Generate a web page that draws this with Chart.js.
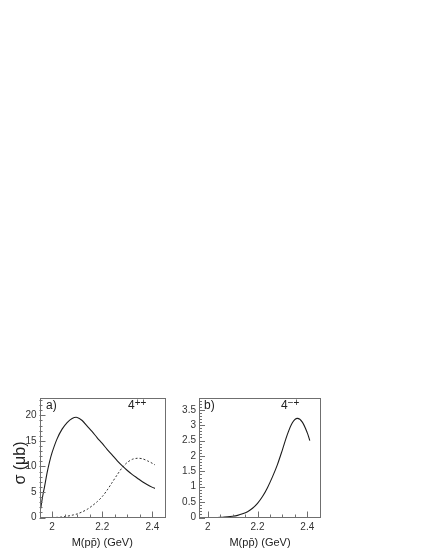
<!DOCTYPE html>
<html>
<head>
<meta charset="utf-8">
<script src="https://cdn.jsdelivr.net/npm/chart.js@4.4.1/dist/chart.umd.min.js"></script>
<style>
  html, body { margin: 0; padding: 0; background: #fff; }
  #wrap { position: relative; width: 432px; height: 559px; overflow: hidden; background: #fff; }
  .pane { position: absolute; }
  .note { position: absolute; font-family: "Liberation Sans", Arial, sans-serif; font-size: 12px; line-height: 14px; color: #222; white-space: nowrap; }
  .note sup { font-size: 10px; vertical-align: 3px; line-height: 0; }
  #ytitle { position: absolute; left: 20px; top: 463px; transform: translate(-50%, -50%) rotate(-90deg);
            font-family: "Liberation Sans", Arial, sans-serif; font-size: 16px; line-height: 18px; color: #222; white-space: nowrap; }
</style>
</head>
<body>
<div id="wrap">
  <div class="pane" style="left:0;top:380px;width:180px;height:179px"><canvas id="chartA" width="180" height="179"></canvas></div>
  <div class="pane" style="left:180px;top:380px;width:152px;height:179px"><canvas id="chartB" width="152" height="179"></canvas></div>
  <div id="ytitle"></div>
  <div class="note" style="left:46px;top:398px">a)</div>
  <div class="note" style="left:128px;top:398px">4<sup>++</sup></div>
  <div class="note" style="left:204px;top:398px">b)</div>
  <div class="note" style="left:281px;top:398px">4<sup>−+</sup></div>
</div>
<script>
// ---- data ----
const massSolidA = [1.955, 1.96, 1.965, 1.97, 1.98, 1.99, 2.0, 2.02, 2.04, 2.06, 2.08, 2.1, 2.12, 2.14, 2.16, 2.18, 2.2, 2.22, 2.24, 2.26, 2.28, 2.3, 2.32, 2.34, 2.36, 2.38, 2.4, 2.41];
const sigmaSolidA = [1.8, 3.4, 4.8, 6.0, 8.7, 10.9, 12.7, 15.4, 17.3, 18.6, 19.4, 19.6, 19.0, 17.9, 16.8, 15.6, 14.5, 13.3, 12.2, 11.1, 10.1, 9.2, 8.4, 7.7, 7.0, 6.4, 5.9, 5.7];
const massDashedA = [2.0, 2.02, 2.04, 2.06, 2.08, 2.1, 2.12, 2.14, 2.16, 2.18, 2.2, 2.22, 2.24, 2.26, 2.28, 2.3, 2.32, 2.34, 2.36, 2.38, 2.4, 2.41];
const sigmaDashedA = [0.0, 0.03, 0.1, 0.25, 0.45, 0.7, 1.1, 1.6, 2.3, 3.1, 4.1, 5.4, 6.9, 8.4, 9.8, 10.8, 11.4, 11.6, 11.5, 11.1, 10.6, 10.3];
const massB = [2.04, 2.06, 2.08, 2.1, 2.12, 2.14, 2.16, 2.18, 2.2, 2.22, 2.24, 2.26, 2.28, 2.3, 2.32, 2.34, 2.36, 2.38, 2.4, 2.41];
const sigmaB = [0.0, 0.01, 0.02, 0.04, 0.07, 0.12, 0.19, 0.3, 0.46, 0.68, 0.97, 1.32, 1.72, 2.2, 2.7, 3.08, 3.22, 3.1, 2.75, 2.5];

const xTickLabels = [2.0, 2.2, 2.4];
const yTickLabelsA = [0, 5, 10, 15, 20];
const yTickLabelsB = [0, 0.5, 1, 1.5, 2, 2.5, 3, 3.5];

const xTitle = 'M(pp\u0304) (GeV)';
const yTitle = '\u03c3 (\u03bcb)';
document.getElementById('ytitle').textContent = yTitle;

// ---- helpers ----
const FONT = '"Liberation Sans", Arial, Helvetica, sans-serif';
const pts = (xs, ys) => xs.map((x, i) => ({ x: x, y: ys[i] }));

function minorValues(min, max, step) {
  const out = [];
  const start = Math.ceil(min / step - 1e-9);
  const end = Math.floor(max / step + 1e-9);
  for (let k = start; k <= end; k++) out.push(+(k * step).toFixed(6));
  return out;
}

const frameTicks = {
  id: 'frameTicks',
  afterDraw(chart, args, o) {
    const { ctx, chartArea: a, scales } = chart;
    const xs = scales.x, ys = scales.y;
    ctx.save();
    ctx.strokeStyle = '#6f6f6f';
    ctx.lineWidth = 1;
    ctx.beginPath();
    minorValues(xs.min, xs.max, o.xMinor).forEach(v => {
      const px = Math.round(xs.getPixelForValue(v)) + 0.5;
      const major = Math.abs(v / o.xMajor - Math.round(v / o.xMajor)) < 1e-6;
      const len = major ? 6 : 3;
      ctx.moveTo(px, a.bottom);
      ctx.lineTo(px, a.bottom - len);
    });
    minorValues(ys.min, ys.max, o.yMinor).forEach(v => {
      const py = Math.round(ys.getPixelForValue(v)) + 0.5;
      const major = Math.abs(v / o.yMajor - Math.round(v / o.yMajor)) < 1e-6;
      const len = major ? 6 : 3;
      ctx.moveTo(a.left, py);
      ctx.lineTo(a.left + len, py);
    });
    ctx.stroke();
    ctx.strokeRect(Math.round(a.left) + 0.5, Math.round(a.top) + 0.5,
                   Math.round(a.right - a.left) - 1, Math.round(a.bottom - a.top) - 1);
    ctx.restore();
  }
};

function makeChart(id, datasets, cfg) {
  return new Chart(document.getElementById(id), {
    type: 'line',
    data: { datasets: datasets },
    plugins: [frameTicks],
    options: {
      responsive: false,
      animation: false,
      events: [],
      layout: { padding: { top: 17.5, right: cfg.padRight, left: 0, bottom: 0 } },
      plugins: {
        legend: { display: false },
        tooltip: { enabled: false },
        frameTicks: cfg.ticks
      },
      elements: { point: { radius: 0 } },
      scales: {
        x: {
          type: 'linear',
          min: cfg.xMin, max: cfg.xMax,
          grid: { display: false, drawTicks: false },
          border: { display: false },
          afterBuildTicks: s => { s.ticks = xTickLabels.map(v => ({ value: v })); },
          afterFit: s => { s.height = 41.5; },
          ticks: {
            padding: 4,
            color: '#333',
            font: { family: FONT, size: 10 },
            maxRotation: 0,
            autoSkip: false,
            callback: v => String(+v.toFixed(2))
          },
          title: {
            display: true,
            text: xTitle,
            color: '#222',
            font: { family: FONT, size: 11 },
            padding: { top: 0, bottom: 9.4 }
          }
        },
        y: {
          type: 'linear',
          min: 0, max: cfg.yMax,
          grid: { display: false, drawTicks: false },
          border: { display: false },
          afterBuildTicks: s => { s.ticks = cfg.yTicks.map(v => ({ value: v })); },
          afterFit: s => { s.width = cfg.yWidth; },
          ticks: {
            padding: 3,
            color: '#333',
            font: { family: FONT, size: 10 },
            autoSkip: false,
            callback: v => String(+v.toFixed(2))
          },
          title: { display: false }
        }
      }
    }
  });
}

makeChart('chartA', [
  { data: pts(massSolidA, sigmaSolidA), borderColor: '#1c1c1c', borderWidth: 1.1, tension: 0.3, fill: false },
  { data: pts(massDashedA, sigmaDashedA), borderColor: '#333', borderWidth: 1, borderDash: [2, 2], tension: 0.3, fill: false }
], {
  padRight: 15, xMin: 1.95, xMax: 2.45, yMax: 23.5, yTicks: yTickLabelsA, yWidth: 39.5,
  ticks: { xMinor: 0.05, xMajor: 0.2, yMinor: 1, yMajor: 5 }
});

makeChart('chartB', [
  { data: pts(massB, sigmaB), borderColor: '#1c1c1c', borderWidth: 1.1, tension: 0.3, fill: false }
], {
  padRight: 11, xMin: 1.965, xMax: 2.455, yMax: 3.9, yTicks: yTickLabelsB, yWidth: 19,
  ticks: { xMinor: 0.05, xMajor: 0.2, yMinor: 0.1, yMajor: 0.5 }
});
</script>
</body>
</html>
